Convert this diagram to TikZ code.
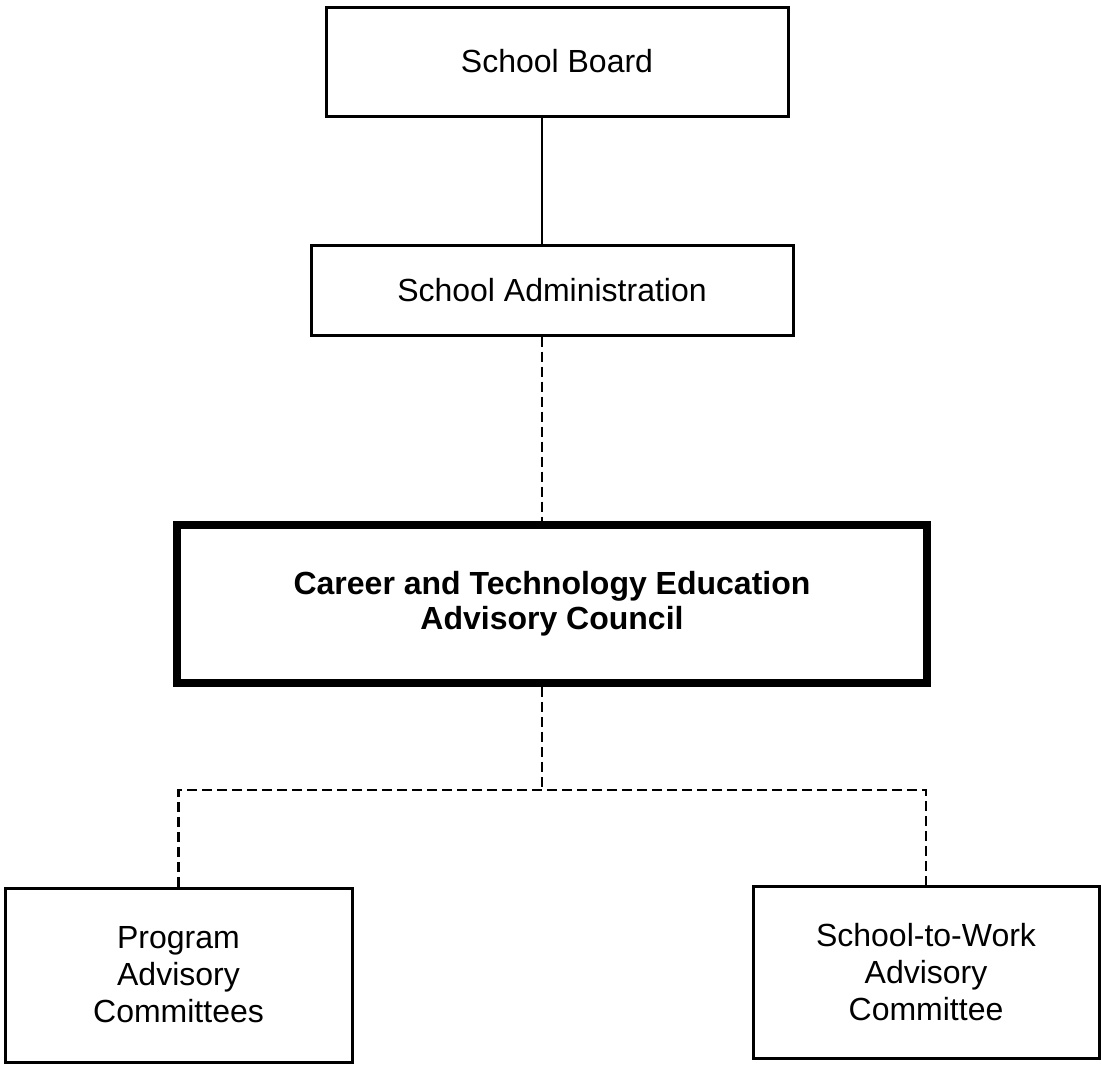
\documentclass[tikz,border=0pt]{standalone}
\usepackage{fontspec}
\setmainfont{Liberation Sans}
\begin{document}
\begin{tikzpicture}[x=1pt,y=-1pt,
  orgbox/.style={draw=black, line width=3pt, rectangle, inner sep=0pt,
    align=center, font=\fontsize{32}{37}\selectfont},
  councilbox/.style={orgbox, line width=7.5pt, font=\fontsize{32}{37}\selectfont\bfseries},
  solidlink/.style={draw=black, line width=2.8pt},
  dashlink/.style={draw=black, line width=2.8pt, dash pattern=on 10pt off 5pt}]
  % page frame
  \useasboundingbox (0,0) rectangle (1101,1066);
  \fill[white] (0,0) rectangle (1101,1066);

  % boxes
  \node[orgbox, minimum width=462pt, minimum height=109pt] (board) at (557,61.5) {School Board};
  \node[orgbox, minimum width=482pt, minimum height=90pt] (admin) at (552,290) {School Administration};
  \node[councilbox, minimum width=750pt, minimum height=158pt] (council) at (552,604)
    {\raisebox{7pt}{\shortstack{Career and Technology Education\\[2pt]Advisory Council}}};
  \node[orgbox, minimum width=347pt, minimum height=174pt] (program) at (178.5,975)
    {Program\\Advisory\\Committees};
  \node[orgbox, minimum width=346pt, minimum height=172pt] (stw) at (926,972)
    {School-to-Work\\Advisory\\Committee};

  % trunk line and branch level
  \coordinate (trunk) at (542,0);
  \coordinate (split) at (0,790);

  % connectors
  \draw[solidlink] (trunk |- board.south) -- (trunk |- admin.north);
  \draw[dashlink] (trunk |- admin.south) -- (trunk |- council.north);
  \draw[dashlink] (trunk |- council.south) -- (trunk |- split);
  \draw[dashlink] (program.north) -- (program.north |- split)
    -- (stw.north |- split) -- (stw.north);
\end{tikzpicture}
\end{document}
